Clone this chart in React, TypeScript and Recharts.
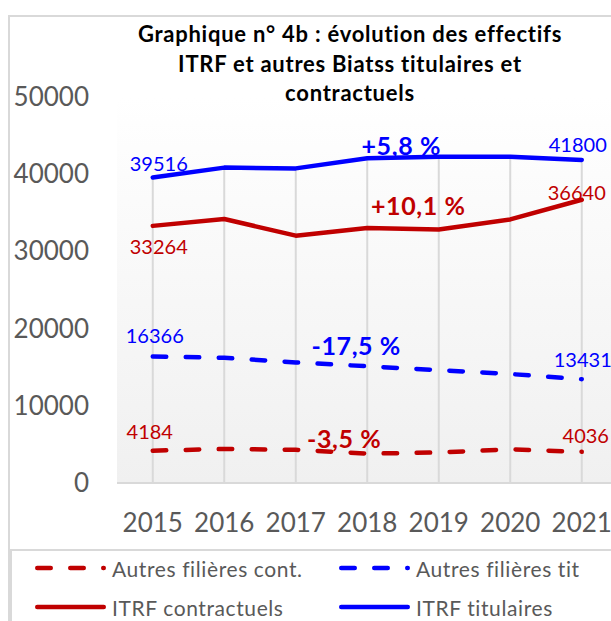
import React from 'react';
import {
  LineChart, Line, XAxis, YAxis, CartesianGrid, Legend, LabelList,
  ReferenceLine, ReferenceDot,
} from 'recharts';

const years = ['2015', '2016', '2017', '2018', '2019', '2020', '2021'];
const autresCont = [4184, 4400, 4300, 3800, 3950, 4350, 4036];
const autresTit = [16366, 16200, 15600, 15100, 14600, 14100, 13431];
const itrfCont = [33264, 34150, 32000, 33000, 32800, 34100, 36640];
const itrfTit = [39516, 40800, 40700, 42000, 42200, 42200, 41800];
const yTicks = [0, 10000, 20000, 30000, 40000, 50000];
const titleLines = [
  'Graphique n° 4b : évolution des effectifs',
  'ITRF et autres Biatss titulaires et',
  'contractuels',
];
const annoTexts = ['+5,8 %', '+10,1 %', '-17,5 %', '-3,5 %'];
const annoYears = ['2018', '2018', '2018', '2018'];
const annoValues = [43700, 35950, 17800, 5800];

const RED = '#C00000';
const BLUE = '#0000FF';
const GREY = '#595959';
const LINE_GREY = '#D9D9D9';
const FONT = 'Lato, "Open Sans", sans-serif';
const DASH = '13.5 19.5';

const data = years.map((y, i) => ({
  year: y,
  autresCont: autresCont[i],
  autresTit: autresTit[i],
  itrfCont: itrfCont[i],
  itrfTit: itrfTit[i],
}));

const series = [
  { key: 'autresCont', name: 'Autres filières cont.', color: RED, dash: DASH,
    first: { dx: -3, dy: -20 }, last: { dx: 4, dy: -17 } },
  { key: 'autresTit', name: 'Autres filières tit', color: BLUE, dash: DASH,
    first: { dx: 2, dy: -21 }, last: { dx: 1, dy: -20 } },
  { key: 'itrfCont', name: 'ITRF contractuels', color: RED, dash: undefined,
    first: { dx: 6, dy: 20 }, last: { dx: -5, dy: -8 } },
  { key: 'itrfTit', name: 'ITRF titulaires', color: BLUE, dash: undefined,
    first: { dx: 6, dy: -15 }, last: { dx: -4, dy: -16 } },
];

const annoStyle = [
  { color: BLUE, dx: 34 },
  { color: RED, dx: 51 },
  { color: BLUE, dx: -11 },
  { color: RED, dx: -23 },
];

const makeEndLabel = (s: any) => (props: any) => {
  const { x, y, value, index } = props;
  if (index !== 0 && index !== years.length - 1) return null;
  const off = index === 0 ? s.first : s.last;
  return (
    <text
      x={x + off.dx}
      y={y + off.dy}
      textAnchor="middle"
      dominantBaseline="central"
      fill={s.color}
      fontSize={20}
      fontFamily={FONT}
    >
      {value}
    </text>
  );
};

const makeAnno = (text: string, color: string, dx: number) => (props: any) => {
  const vb = props.viewBox || {};
  const cx = (vb.x || 0) + (vb.width || 0) / 2;
  const cy = (vb.y || 0) + (vb.height || 0) / 2;
  return (
    <text
      x={cx + dx}
      y={cy}
      textAnchor="middle"
      dominantBaseline="central"
      fill={color}
      fontSize={25}
      fontWeight={700}
      letterSpacing={0.6}
      fontFamily={FONT}
    >
      {text}
    </text>
  );
};

const LegendContent = (props: any) => {
  const payload = props.payload || [];
  const pos = [
    { left: 25, top: 19 },
    { left: 329, top: 19 },
    { left: 25, top: 58 },
    { left: 329, top: 58 },
  ];
  return (
    <div
      style={{
        position: 'relative',
        width: 700,
        height: 72,
        boxSizing: 'border-box',
        borderTop: `2px solid ${LINE_GREY}`,
        borderLeft: `2px solid ${LINE_GREY}`,
      }}
    >
      {payload.map((p: any, i: number) => {
        const s = series.find((x) => x.name === p.value) || series[i];
        const pp = pos[i] || pos[0];
        return (
          <div key={i} style={{ position: 'absolute', left: pp.left - 2, top: pp.top - 2 - 14, height: 28, display: 'flex', alignItems: 'center' }}>
            <svg width={72} height={28} style={{ display: 'block' }}>
              <line
                x1={2.25}
                x2={68.75}
                y1={14}
                y2={14}
                stroke={s.color}
                strokeWidth={4.5}
                strokeLinecap="round"
                strokeDasharray={s.dash}
              />
            </svg>
            <span style={{ marginLeft: 5, fontSize: 21, letterSpacing: 0.6, color: GREY, fontFamily: FONT, whiteSpace: 'nowrap' }}>{p.value}</span>
          </div>
        );
      })}
    </div>
  );
};

export default function App() {
  const maxPerYear = years.map((_, i) =>
    Math.max(autresCont[i], autresTit[i], itrfCont[i], itrfTit[i])
  );
  return (
    <div style={{ position: 'fixed', left: 0, top: 0, width: 611, height: 621, overflow: 'hidden', background: '#fff' }}>
      <div style={{ position: 'absolute', left: 8, top: 8, width: 603, height: 613, overflow: 'hidden', fontFamily: FONT }}>
        <div
          style={{
            position: 'absolute', left: 0, top: 7, width: 684, height: 700,
            boxSizing: 'border-box', border: `2px solid ${LINE_GREY}`,
          }}
        />
        <div style={{ position: 'absolute', left: 0, top: 0 }}>
          <LineChart
            width={620}
            height={613}
            data={data}
            margin={{ top: 88.5, right: 10.5, bottom: 0, left: 0 }}
            style={{ fontFamily: FONT }}
          >
            <defs>
              <linearGradient id="plotGrad" x1="0" y1="0" x2="0" y2="1">
                <stop offset="0%" stopColor="#FFFFFF" />
                <stop offset="100%" stopColor="#F0F0F0" />
              </linearGradient>
            </defs>
            <CartesianGrid horizontal={false} vertical={false} fill="url(#plotGrad)" stroke="none" />
            <XAxis
              dataKey="year"
              height={66}
              interval={0}
              padding={{ left: 35.75, right: 35.75 }}
              tickLine={false}
              axisLine={{ stroke: LINE_GREY, strokeWidth: 2 }}
              tick={{ fill: GREY, fontSize: 26, fontFamily: FONT }}
              tickMargin={25}
            />
            <YAxis
              width={109}
              domain={[0, 50000]}
              ticks={yTicks}
              interval={0}
              tickLine={false}
              axisLine={false}
              tick={{ fill: GREY, fontSize: 26, fontFamily: FONT }}
              tickMargin={22}
            />
            {years.map((y, i) => (
              <ReferenceLine
                key={'d' + y}
                segment={[{ x: y, y: 0 }, { x: y, y: maxPerYear[i] }]}
                stroke={LINE_GREY}
                strokeWidth={2}
              />
            ))}
            {series.map((s) => (
              <Line
                key={s.key}
                type="linear"
                dataKey={s.key}
                name={s.name}
                stroke={s.color}
                strokeWidth={4.5}
                strokeDasharray={s.dash}
                strokeLinecap="round"
                strokeLinejoin="round"
                dot={false}
                activeDot={false}
                isAnimationActive={false}
              >
                <LabelList dataKey={s.key} content={makeEndLabel(s)} />
              </Line>
            ))}
            {annoTexts.map((t, i) => (
              <ReferenceDot
                key={'a' + i}
                x={annoYears[i]}
                y={annoValues[i]}
                r={1}
                fill="none"
                stroke="none"
                label={makeAnno(t, annoStyle[i].color, annoStyle[i].dx)}
              />
            ))}
            <Legend
              verticalAlign="bottom"
              content={<LegendContent />}
              wrapperStyle={{ left: 2, width: 700 }}
            />
          </LineChart>
        </div>
        <div
          style={{
            position: 'absolute', left: 0, top: 11, width: 684, textAlign: 'center',
            fontWeight: 700, fontSize: 22, letterSpacing: 0.75, lineHeight: '29.5px', color: '#000', fontFamily: FONT,
          }}
        >
          {titleLines.map((t, i) => (
            <div key={i}>{t}</div>
          ))}
        </div>
      </div>
    </div>
  );
}
